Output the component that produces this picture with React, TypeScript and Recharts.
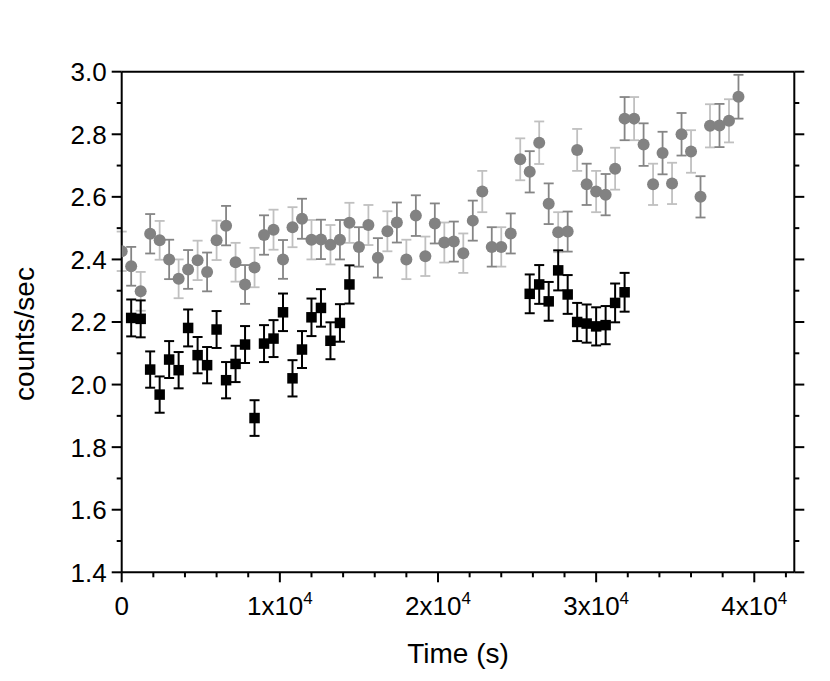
import React from "react";
import {
  ScatterChart,
  Scatter,
  XAxis,
  YAxis,
  ErrorBar,
  Label,
} from "recharts";

// time (s) of each gray sample
const grayTimes = [
  0, 600, 1200, 1800, 2400, 3000, 3600, 4200, 4800, 5400, 6000, 6600, 7200,
  7800, 8400, 9000, 9600, 10200, 10800, 11400, 12000, 12600, 13200, 13800,
  14400, 15000, 15600, 16200, 16800, 17400, 18000, 18600, 19200, 19800, 20400,
  21000, 21600, 22200, 22800, 23400, 24000, 24600, 25200, 25800, 26400, 27000,
  27600, 28200, 28800, 29400, 30000, 30600, 31200, 31800, 32400, 33000, 33600,
  34200, 34800, 35400, 36000, 36600, 37200, 37800, 38400, 39000,
];
const grayRates = [
  2.426, 2.378, 2.298, 2.482, 2.461, 2.4, 2.338, 2.368, 2.397, 2.36, 2.461,
  2.508, 2.391, 2.32, 2.374, 2.478, 2.495, 2.4, 2.503, 2.53, 2.463, 2.464,
  2.447, 2.463, 2.517, 2.44, 2.51, 2.405, 2.49, 2.518, 2.4, 2.54, 2.41, 2.515,
  2.454, 2.457, 2.42, 2.524, 2.617, 2.44, 2.44, 2.483, 2.72, 2.68, 2.773,
  2.578, 2.487, 2.489, 2.75, 2.64, 2.617, 2.607, 2.69, 2.85, 2.85, 2.767, 2.64,
  2.74, 2.643, 2.8, 2.745, 2.6, 2.827, 2.828, 2.843, 2.92,
];
const grayErrors = [
  0.063, 0.062, 0.062, 0.063, 0.062, 0.063, 0.062, 0.062, 0.063, 0.062, 0.063,
  0.063, 0.062, 0.062, 0.063, 0.063, 0.064, 0.062, 0.064, 0.064, 0.063, 0.063,
  0.063, 0.063, 0.064, 0.063, 0.064, 0.063, 0.064, 0.064, 0.063, 0.065, 0.063,
  0.064, 0.064, 0.064, 0.063, 0.064, 0.066, 0.063, 0.063, 0.064, 0.067, 0.066,
  0.068, 0.065, 0.064, 0.064, 0.067, 0.066, 0.066, 0.066, 0.067, 0.069, 0.069,
  0.068, 0.066, 0.068, 0.066, 0.068, 0.068, 0.066, 0.069, 0.069, 0.069, 0.07,
];

const blackTimes = [
  600, 1200, 1800, 2400, 3000, 3600, 4200, 4800, 5400, 6000, 6600, 7200, 7800,
  8400, 9000, 9600, 10200, 10800, 11400, 12000, 12600, 13200, 13800, 14400,
  25800, 26400, 27000, 27600, 28200, 28800, 29400, 30000, 30600, 31200, 31800,
];
const blackRates = [
  2.213, 2.21, 2.048, 1.968, 2.08, 2.046, 2.181, 2.094, 2.062, 2.176, 2.014,
  2.066, 2.128, 1.893, 2.131, 2.147, 2.231, 2.02, 2.112, 2.215, 2.245, 2.14,
  2.197, 2.32, 2.29, 2.32, 2.266, 2.365, 2.288, 2.2, 2.195, 2.186, 2.19, 2.261,
  2.295,
];
const blackErrors = [
  0.059, 0.059, 0.058, 0.058, 0.059, 0.058, 0.059, 0.058, 0.058, 0.059, 0.058,
  0.058, 0.059, 0.057, 0.059, 0.059, 0.06, 0.058, 0.059, 0.06, 0.06, 0.059,
  0.06, 0.061, 0.062, 0.062, 0.062, 0.064, 0.062, 0.061, 0.061, 0.061, 0.061,
  0.062, 0.062,
];

const xTicks = [
  0, 2000, 4000, 6000, 8000, 10000, 12000, 14000, 16000, 18000, 20000, 22000,
  24000, 26000, 28000, 30000, 32000, 34000, 36000, 38000, 40000, 42000,
];
const xMajor = [0, 10000, 20000, 30000, 40000];
const yTicks = [
  1.4, 1.5, 1.6, 1.7, 1.8, 1.9, 2.0, 2.1, 2.2, 2.3, 2.4, 2.5, 2.6, 2.7, 2.8,
  2.9, 3.0,
];
const yMajor = ["1.4", "1.6", "1.8", "2.0", "2.2", "2.4", "2.6", "2.8", "3.0"];

const FONT = "'Liberation Sans', Arial, sans-serif";
const X_DOMAIN: [number, number] = [0, 42530];
const Y_DOMAIN: [number, number] = [1.4, 3.0];

const grayPts = grayTimes.map((t, i) => ({ x: t, y: grayRates[i], e: grayErrors[i] }));
const grayA = grayPts.filter((_, i) => i % 2 === 0);
const grayB = grayPts.filter((_, i) => i % 2 === 1);
const blackPts = blackTimes.map((t, i) => ({ x: t, y: blackRates[i], e: blackErrors[i] }));

const tickLen = (major: boolean) => (major ? 10 : 5);

function BottomTick(props: any) {
  const { x, y, payload } = props;
  const v = payload.value as number;
  const major = xMajor.includes(v);
  const exp = v === 0 ? "" : String(v / 10000);
  return (
    <g>
      <line x1={x} x2={x} y1={y} y2={y + tickLen(major)} stroke="#000" strokeWidth={2} />
      {major && (
        <text x={x} y={y + 43} textAnchor="middle" fontSize={26} fontFamily={FONT} fill="#000">
          {v === 0 ? (
            "0"
          ) : (
            <>
              {exp}x10
              <tspan dy={-11} fontSize={17}>4</tspan>
            </>
          )}
        </text>
      )}
    </g>
  );
}

function TopTick(props: any) {
  const { x, y, payload } = props;
  const major = xMajor.includes(payload.value);
  return <line x1={x} x2={x} y1={y} y2={y - tickLen(major)} stroke="#000" strokeWidth={2} />;
}

function LeftTick(props: any) {
  const { x, y, payload } = props;
  const label = (payload.value as number).toFixed(1);
  const major = yMajor.includes(label);
  return (
    <g>
      <line x1={x} x2={x - tickLen(major)} y1={y} y2={y} stroke="#000" strokeWidth={2} />
      {major && (
        <text x={x - 15} y={y} dy="0.36em" textAnchor="end" fontSize={26} fontFamily={FONT} fill="#000">
          {label}
        </text>
      )}
    </g>
  );
}

function RightTick(props: any) {
  const { x, y, payload } = props;
  const major = yMajor.includes((payload.value as number).toFixed(1));
  return <line x1={x} x2={x + tickLen(major)} y1={y} y2={y} stroke="#000" strokeWidth={2} />;
}

const circle = (p: any) => <circle cx={p.cx} cy={p.cy} r={6} fill="#828282" />;
const square = (p: any) => <rect x={p.cx - 5.25} y={p.cy - 5.25} width={10.5} height={10.5} fill="#000" />;

export default function App() {
  const axisLine = { stroke: "#000", strokeWidth: 2 };
  return (
    <div style={{ width: 822, height: 673 }}>
      <ScatterChart
        width={822}
        height={673}
        margin={{ top: 53.7, right: 25.7, bottom: 48.7, left: 53.7 }}
      >
        <XAxis
          xAxisId="b"
          dataKey="x"
          type="number"
          domain={X_DOMAIN}
          ticks={xTicks}
          interval={0}
          allowDataOverflow
          height={60}
          tickSize={0}
          tickMargin={0}
          tickLine={false}
          axisLine={axisLine}
          tick={<BottomTick />}
        >
          <Label
            content={(p: any) => {
              const vb = p.viewBox;
              return (
                <text x={vb.x + vb.width / 2} y={vb.y + 90.7} textAnchor="middle" fontSize={28} fontFamily={FONT} fill="#000">
                  Time (s)
                </text>
              );
            }}
          />
        </XAxis>
        <XAxis
          xAxisId="t"
          orientation="top"
          type="number"
          domain={X_DOMAIN}
          ticks={xTicks}
          interval={0}
          allowDataOverflow
          height={10}
          tickSize={0}
          tickMargin={0}
          tickLine={false}
          axisLine={axisLine}
          tick={<TopTick />}
        />
        <YAxis
          yAxisId="l"
          dataKey="y"
          type="number"
          domain={Y_DOMAIN}
          ticks={yTicks}
          interval={0}
          allowDataOverflow
          width={60}
          tickSize={0}
          tickMargin={0}
          tickLine={false}
          axisLine={axisLine}
          tick={<LeftTick />}
        >
          <Label
            content={() => (
              <text
                x={16}
                y={326}
                transform="rotate(-90 16 326)"
                textAnchor="middle"
                dominantBaseline="central"
                fontSize={28}
                fontFamily={FONT}
                fill="#000"
              >
                counts/sec
              </text>
            )}
          />
        </YAxis>
        <YAxis
          yAxisId="r"
          orientation="right"
          type="number"
          domain={Y_DOMAIN}
          ticks={yTicks}
          interval={0}
          allowDataOverflow
          width={10}
          tickSize={0}
          tickMargin={0}
          tickLine={false}
          axisLine={axisLine}
          tick={<RightTick />}
        />
        <Scatter data={grayA} xAxisId="b" yAxisId="l" shape={circle} isAnimationActive={false}>
          <ErrorBar dataKey="e" direction="y" width={5} stroke="#c0c0c0" strokeWidth={1.8} isAnimationActive={false} />
        </Scatter>
        <Scatter data={grayB} xAxisId="b" yAxisId="l" shape={circle} isAnimationActive={false}>
          <ErrorBar dataKey="e" direction="y" width={5} stroke="#858585" strokeWidth={1.8} isAnimationActive={false} />
        </Scatter>
        <Scatter data={blackPts} xAxisId="b" yAxisId="l" shape={square} isAnimationActive={false}>
          <ErrorBar dataKey="e" direction="y" width={5} stroke="#000" strokeWidth={2} isAnimationActive={false} />
        </Scatter>
      </ScatterChart>
    </div>
  );
}
